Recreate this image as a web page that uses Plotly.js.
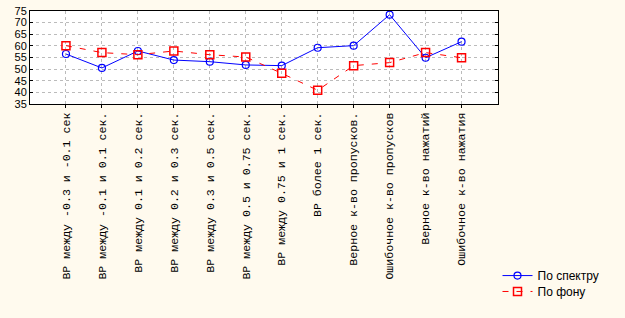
<!DOCTYPE html>
<html><head><meta charset="utf-8">
<script src="https://cdn.plot.ly/plotly-3.0.1.min.js"></script>
<style>html,body{margin:0;padding:0;background:#FFFAEE;}#chart{width:625px;height:318px;}</style>
</head><body><div id="chart"></div>
<script>
var categories = [
  "ВР между -0.3 и -0.1 сек",
  "ВР между -0.1 и 0.1 сек.",
  "ВР между 0.1 и 0.2 сек.",
  "ВР между 0.2 и 0.3 сек.",
  "ВР между 0.3 и 0.5 сек.",
  "ВР между 0.5 и 0.75 сек.",
  "ВР между 0.75 и 1 сек.",
  "ВР более 1 сек.",
  "Верное к-во пропусков.",
  "Ошибочное к-во пропусков",
  "Верное к-во нажатий",
  "Ошибочное к-во нажатия"
];
var seriesSpectrum = [56.5, 50.5, 57.8, 53.9, 53.2, 51.8, 51.5, 59.2, 60.1, 73.4, 54.9, 61.8];
var seriesBackground = [60.1, 57.1, 56.2, 57.8, 56.2, 55.2, 48.2, 40.9, 51.5, 52.8, 57.1, 54.9];
var seriesNames = ["По спектру", "По фону"];
var yTicks = [35, 40, 45, 50, 55, 60, 65, 70, 75];

var idx = categories.map(function(_, i){ return i; });
var traces = [
  {x: idx, y: seriesSpectrum, name: seriesNames[0], type: "scatter", mode: "lines+markers",
   legend: "legend",
   line: {color: "#0000FF", width: 1},
   marker: {symbol: "circle-open", size: 7, color: "#0000FF", line: {width: 1.2}}},
  {x: idx, y: seriesBackground, name: seriesNames[1], type: "scatter", mode: "lines+markers",
   legend: "legend2",
   line: {color: "#FF0000", width: 1, dash: "6px,8px"},
   marker: {symbol: "square-open", size: 8, color: "#FF0000", line: {width: 1.5}}}
];
var legFont = {family: "Liberation Sans, Arial, sans-serif", size: 12, color: "#000"};
var layout = {
  width: 625, height: 318,
  paper_bgcolor: "#FFFAEE", plot_bgcolor: "#FFFFFF",
  margin: {l: 30, r: 124, t: 11, b: 214},
  showlegend: true,
  legend: {xref: "container", yref: "container", x: 0.796, xanchor: "left", y: 0.179, yanchor: "top",
           font: legFont, bgcolor: "rgba(0,0,0,0)"},
  legend2: {xref: "container", yref: "container", x: 0.796, xanchor: "left", y: 0.129, yanchor: "top",
           font: legFont, bgcolor: "rgba(0,0,0,0)"},
  xaxis: {range: [-1, 12], tickvals: idx, ticktext: categories, tickangle: -90,
          showgrid: true, gridcolor: "#BBBBBB", griddash: "dot", gridwidth: 1,
          ticks: "outside", ticklen: 3, tickcolor: "#000",
          showline: true, linecolor: "#000", linewidth: 1, mirror: true, zeroline: false,
          tickfont: {family: "Liberation Mono, Courier New, monospace", size: 11.6, color: "#000"}},
  yaxis: {range: [35, 75], tickvals: yTicks, ticktext: yTicks.map(String),
          showgrid: true, gridcolor: "#BBBBBB", griddash: "dot", gridwidth: 1,
          ticks: "inside", ticklen: 3, tickcolor: "#000",
          showline: true, linecolor: "#000", linewidth: 1, mirror: "ticks", zeroline: false,
          tickfont: {family: "Liberation Sans Narrow, Arial Narrow, Liberation Sans, sans-serif", size: 11, color: "#000"}}
};
Plotly.newPlot("chart", traces, layout, {displayModeBar: false, staticPlot: true});
</script></body></html>
